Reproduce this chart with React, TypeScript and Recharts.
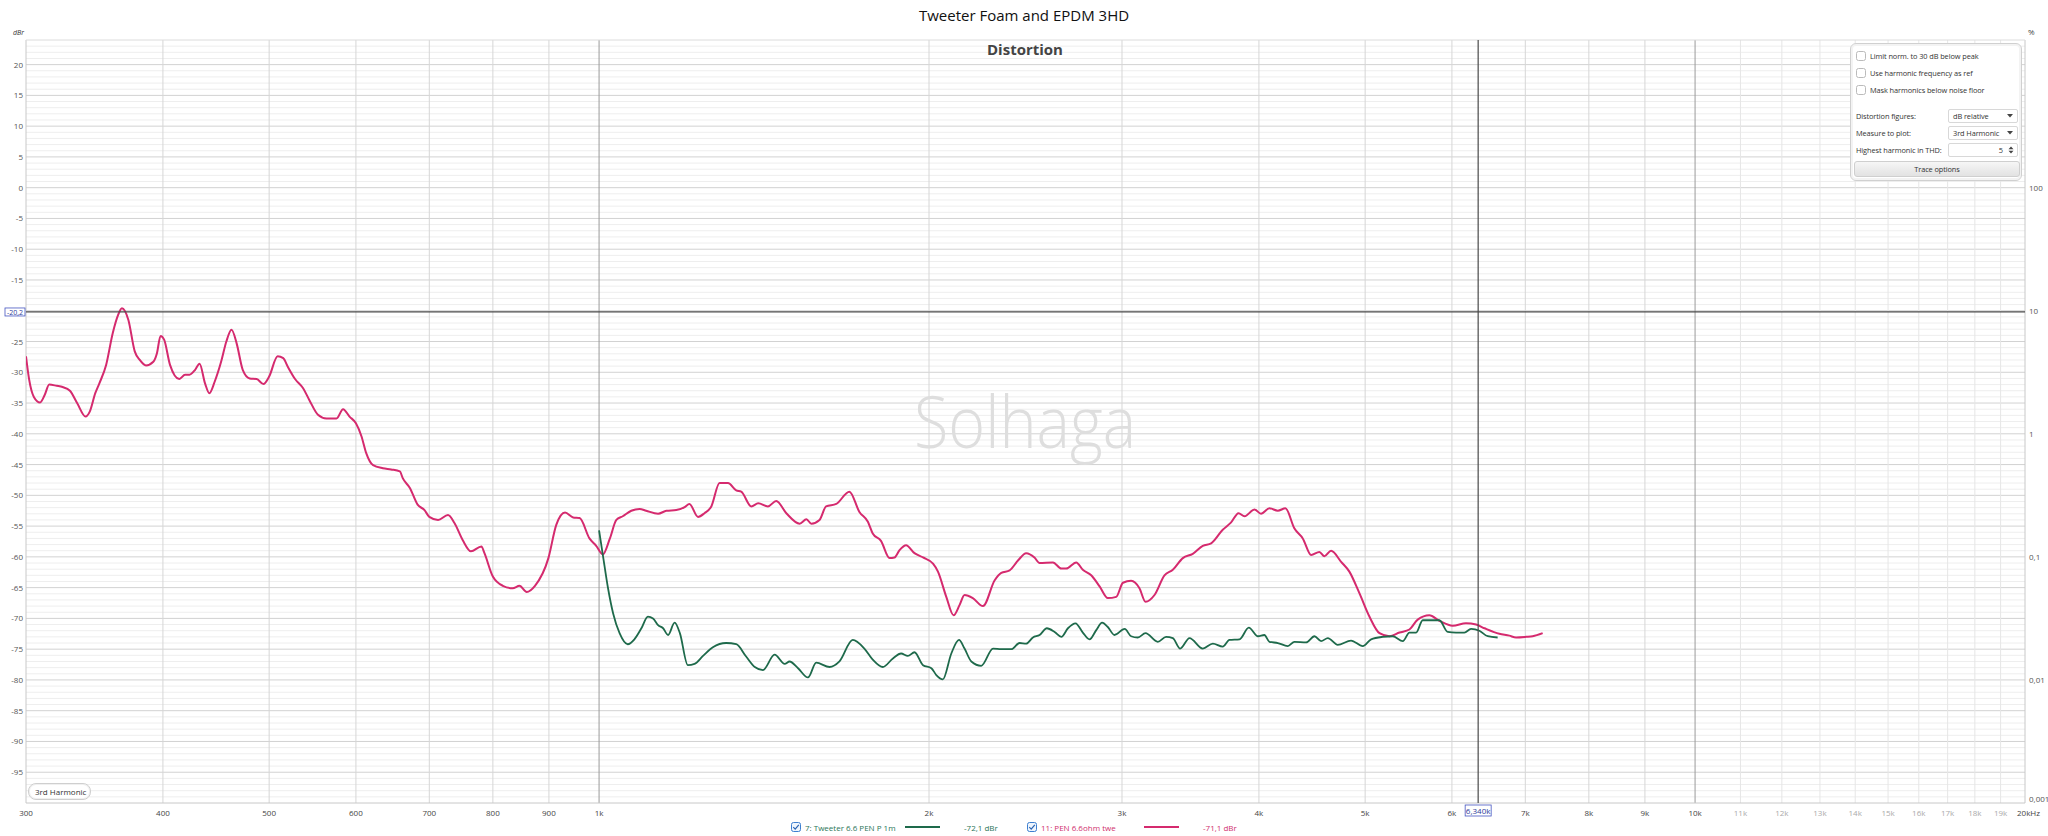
import React from "react";
import { LineChart, Line, XAxis, YAxis, ReferenceLine } from "recharts";

// PEN 6.6ohm twe (pink)
const pinkFreq = [
  300, 302, 305, 309, 312, 315, 320, 324, 329, 334, 340, 343, 347, 350, 355, 360, 364, 367, 372, 377,
  381, 386, 392, 395, 398, 401, 406, 414, 419, 423, 428, 432, 437, 441, 446, 452, 457, 462, 467, 473,
  480, 487, 494, 500, 509, 515, 520, 528, 537, 544, 554, 564, 576, 584, 592, 600, 607, 613, 622, 635,
  646, 658, 662, 672, 683, 693, 700, 713, 728, 738, 751, 764, 781, 786, 800, 817, 834, 846, 859, 874,
  899, 914, 931, 947, 960, 980, 994, 1008, 1023, 1037, 1051, 1070, 1089, 1104, 1132, 1152, 1176, 1197,
  1209, 1231, 1248, 1266, 1288, 1311, 1334, 1348, 1377, 1397, 1426, 1451, 1482, 1524, 1546, 1562, 1589,
  1611, 1646, 1692, 1728, 1759, 1777, 1808, 1841, 1860, 1880, 1906, 1940, 1975, 2017, 2038, 2074, 2106,
  2133, 2155, 2193, 2240, 2296, 2328, 2369, 2411, 2453, 2496, 2523, 2595, 2641, 2668, 2725, 2763, 2812,
  2862, 2912, 2964, 3006, 3058, 3112, 3152, 3212, 3280, 3338, 3409, 3481, 3555, 3618, 3707, 3773, 3832,
  3881, 3963, 4018, 4089, 4162, 4229, 4310, 4386, 4464, 4542, 4590, 4655, 4754, 4837, 4940, 5045, 5153,
  5262, 5374, 5487, 5584, 5722, 5844, 6010, 6180, 6312, 6425, 6629, 6769, 6865, 7015, 7110, 7260,
];
const pinkDb = [
  -27.4, -31.2, -34.0, -34.9, -33.7, -32.0, -32.2, -32.4, -33.0, -35.0, -37.2, -36.4, -33.4, -31.8, -28.8, -23.6, -20.7, -19.6, -21.5, -26.6,
  -28.0, -28.9, -28.3, -26.9, -24.1, -24.7, -28.8, -31.1, -30.4, -30.4, -29.6, -28.6, -31.8, -33.4, -31.5, -28.3, -25.0, -23.1, -25.3, -29.6,
  -31.0, -31.1, -31.9, -30.7, -27.4, -27.7, -29.1, -31.1, -32.6, -34.5, -36.9, -37.5, -37.5, -36.0, -37.2, -38.3, -40.4, -43.1, -45.1, -45.6,
  -45.8, -46.1, -47.2, -48.8, -51.5, -52.4, -53.5, -54.0, -53.2, -54.5, -57.3, -59.1, -58.3, -59.4, -63.2, -64.7, -65.1, -64.7, -65.7, -64.7,
  -60.2, -54.8, -52.8, -53.6, -53.7, -57.0, -58.2, -59.6, -57.0, -54.0, -53.4, -52.5, -52.2, -52.5, -53.0, -52.5, -52.4, -51.9,
  -51.4, -53.5, -52.9, -51.8, -48.0, -48.0, -49.2, -49.4, -51.8, -51.3, -51.8, -50.9, -52.9, -54.6, -53.9, -54.6, -54.0,
  -51.8, -51.4, -49.4, -52.7, -54.3, -56.2, -57.4, -60.2, -60.1, -58.9, -58.1, -59.4, -60.1, -61.1, -62.4, -66.5, -69.5,
  -67.8, -66.2, -66.7, -68.0, -63.8, -62.6, -62.2, -60.6, -59.4, -60.1, -61.0, -60.9, -61.9, -61.9, -60.9, -62.1, -63.0,
  -64.8, -66.7, -66.5, -64.2, -63.9, -65.1, -67.3, -66.2, -63.0, -62.1, -60.2, -59.5, -58.2, -57.8, -55.6, -54.4, -52.9,
  -53.4, -52.3, -53.0, -52.1, -52.5, -52.1, -55.4, -57.0, -59.7, -59.2, -59.9, -59.0, -60.8, -62.4, -65.9, -69.7, -72.4,
  -72.9, -72.3, -71.8, -70.2, -69.5, -70.4, -71.2, -70.8, -71.0, -71.6, -72.5, -72.8, -73.1, -73.0, -72.9, -72.4,
];

// Tweeter 6.6 PEN P 1m (green)
const greenFreq = [
  1000, 1008, 1019, 1030, 1044, 1062, 1077, 1093, 1108, 1120, 1132, 1144, 1156, 1172, 1185, 1205, 1222, 1244,
  1270, 1306, 1334, 1362, 1387, 1411, 1446, 1477, 1492, 1519, 1551, 1578, 1623, 1657, 1704, 1746, 1777, 1815,
  1854, 1886, 1913, 1940, 1975, 2010, 2031, 2059, 2096, 2130, 2155, 2186, 2232, 2288, 2328, 2378, 2419, 2453,
  2488, 2523, 2562, 2604, 2641, 2678, 2721, 2763, 2802, 2842, 2877, 2912, 2953, 3017, 3058, 3101, 3152, 3234,
  3291, 3338, 3390, 3457, 3555, 3631, 3707, 3760, 3840, 3916, 3992, 4046, 4089, 4162, 4250, 4310, 4417, 4495,
  4558, 4623, 4720, 4854, 4975, 5063, 5189, 5299, 5412, 5487, 5565, 5643, 5743, 5844, 5947, 6052, 6159, 6246,
  6356, 6469, 6605,
];
const greenDb = [
  -55.7, -59.7, -65.1, -69.2, -72.4, -74.2, -73.4, -71.6, -69.7, -70.0, -71.1, -71.6, -72.7, -70.7, -72.4, -77.6, -77.4, -76.1,
  -74.7, -74.0, -74.2, -76.2, -77.9, -78.4, -75.9, -77.4, -77.0, -78.1, -79.6, -77.2, -77.9, -77.0, -73.5, -74.9, -76.7, -77.9,
  -76.5, -75.7, -76.1, -75.5, -77.6, -78.1, -79.2, -79.9, -75.7, -73.5, -74.9, -77.0, -77.7, -74.9, -75.0, -75.0, -74.0, -74.1,
  -73.1, -72.7, -71.6, -72.2, -73.0, -71.6, -70.8, -72.3, -73.4, -71.9, -70.7, -71.4, -72.7, -71.7, -72.9, -73.1, -72.4, -73.8,
  -73.0, -73.2, -74.9, -73.2, -74.9, -74.1, -74.6, -73.5, -73.4, -71.5, -72.9, -72.7, -73.8, -74.0, -74.5, -73.8, -73.9, -72.9,
  -73.7, -73.2, -74.3, -73.6, -74.5, -73.4, -73.0, -72.9, -73.7, -72.3, -72.3, -70.3, -70.3, -70.3, -72.2, -72.3, -72.3, -71.7,
  -72.0, -72.9, -73.1,
];

const xTicks = [
  300, 400, 500, 600, 700, 800, 900, 1000, 2000, 3000, 4000, 5000, 6000, 7000, 8000, 9000, 10000,
  11000, 12000, 13000, 14000, 15000, 16000, 17000, 18000, 19000, 20000,
];
const xLabels = [
  "300", "400", "500", "600", "700", "800", "900", "1k", "2k", "3k", "4k", "5k", "6k", "7k", "8k", "9k", "10k",
  "11k", "12k", "13k", "14k", "15k", "16k", "17k", "18k", "19k", "20kHz",
];
const yTicks = [20, 15, 10, 5, 0, -5, -10, -15, -20, -25, -30, -35, -40, -45, -50, -55, -60, -65, -70, -75, -80, -85, -90, -95];
const pctTicks = [0, -20, -40, -60, -80, -100];
const pctLabels = ["100", "10", "1", "0,1", "0,01", "0,001"];

const cursorDb = -20.2;
const cursorFreq = 6340;
const legendNames = ["7: Tweeter 6.6 PEN P 1m", "11: PEN 6.6ohm twe"];
const legendValues = ["-72,1 dBr", "-71,1 dBr"];
const panelChecks = ["Limit norm. to 30 dB below peak", "Use harmonic frequency as ref", "Mask harmonics below noise floor"];
const panelFields = [
  ["Distortion figures:", "dB relative"],
  ["Measure to plot:", "3rd Harmonic"],
  ["Highest harmonic in THD:", "5"],
];

const pinkData = pinkFreq.map((f, i) => ({ f, db: pinkDb[i] }));
const greenData = greenFreq.map((f, i) => ({ f, db: greenDb[i] }));

const PINK = "#d52a6e";
const GREEN = "#1e6a4b";
const FONT = "'Open Sans', 'Noto Sans', sans-serif";

// grid positions (1 dB minor, 5 dB major)
const yMinor: number[] = [];
for (let v = -99; v <= 23; v++) if (v % 5 !== 0) yMinor.push(v);
const xGrid = xTicks.filter((v) => v !== 300 && v !== 20000);

const XTick = (props: any) => {
  const { x, y, payload } = props;
  const i = xTicks.indexOf(payload.value);
  const v = payload.value;
  const faint = v > 10000 && v < 20000;
  const last = v === 20000;
  return (
    <text x={last ? x - 8 : x} y={y + 11} textAnchor={last ? "start" : "middle"} fontSize={8} fontFamily={FONT} fill={faint ? "#aaa" : "#444"}>
      {xLabels[i]}
    </text>
  );
};

const LTick = (props: any) => {
  const { x, y, payload } = props;
  // the cursor readout box sits over this tick
  if (Math.abs(payload.value - cursorDb) < 1) return <g />;
  return (
    <text x={x - 1} y={y + 3} textAnchor="end" fontSize={8} fontFamily={FONT} fill="#555">
      {payload.value}
    </text>
  );
};

const RTick = (props: any) => {
  const { x, y, payload } = props;
  const i = pctTicks.indexOf(payload.value);
  return (
    <text x={x + 2} y={payload.value === -100 ? y - 1 : y + 3} textAnchor="start" fontSize={8} fontFamily={FONT} fill="#555">
      {pctLabels[i]}
    </text>
  );
};

const CheckIcon = ({ checked }: { checked: boolean }) => (
  <svg width={10} height={10} style={{ display: "block", flexShrink: 0 }}>
    <rect x={0.5} y={0.5} width={9} height={9} rx={2} fill={checked ? "#eef5fd" : "#fff"} stroke={checked ? "#3d7fd0" : "#bbb"} />
    {checked && <path d="M2.3 5.2 L4.2 7.1 L7.8 2.8" fill="none" stroke="#2a64b3" strokeWidth={1.2} />}
  </svg>
);

export default function App() {
  return (
    <div style={{ position: "absolute", left: 0, top: 0, width: 2048, height: 836, background: "#fff", overflow: "hidden", fontFamily: FONT }}>
      <LineChart width={2048} height={836} margin={{ top: 40, right: 3, bottom: 13, left: 6 }}>
        <XAxis
          dataKey="f"
          type="number"
          scale="log"
          domain={[300, 20000]}
          allowDataOverflow
          ticks={xTicks}
          interval={0}
          height={20}
          tickSize={0}
          tickLine={false}
          axisLine={false}
          tick={(p: any) => <XTick {...p} />}
        />
        <YAxis
          yAxisId="l"
          type="number"
          domain={[-100, 24]}
          allowDataOverflow
          ticks={yTicks}
          interval={0}
          width={20}
          tickSize={0}
          tickLine={false}
          axisLine={false}
          tick={(p: any) => <LTick {...p} />}
        />
        <YAxis
          yAxisId="r"
          orientation="right"
          type="number"
          domain={[-100, 24]}
          allowDataOverflow
          ticks={pctTicks}
          interval={0}
          width={20}
          tickSize={0}
          tickLine={false}
          axisLine={false}
          tick={(p: any) => <RTick {...p} />}
        />

        {yMinor.map((v) => (
          <ReferenceLine key={"ym" + v} yAxisId="l" y={v} stroke="#eeeeee" strokeWidth={1} />
        ))}
        {yTicks.map((v) => (
          <ReferenceLine key={"yM" + v} yAxisId="l" y={v} stroke="#d2d2d2" strokeWidth={1} />
        ))}
        {xGrid.map((v) => (
          <ReferenceLine
            key={"x" + v}
            yAxisId="l"
            x={v}
            stroke={v === 1000 || v === 10000 ? "#9a9a9a" : v > 10000 ? "#e6e6e6" : "#d6d6d6"}
            strokeWidth={1}
          />
        ))}
        <ReferenceLine yAxisId="l" x={300} stroke="#c8c8c8" />
        <ReferenceLine yAxisId="l" x={20000} stroke="#c8c8c8" />
        <ReferenceLine yAxisId="l" y={24} stroke="#dcdcdc" />
        <ReferenceLine yAxisId="l" y={-100} stroke="#c8c8c8" />

        <Line
          yAxisId="l"
          data={pinkData}
          dataKey="db"
          type="monotone"
          stroke={PINK}
          strokeWidth={2}
          dot={false}
          activeDot={false}
          isAnimationActive={false}
        />
        <Line
          yAxisId="l"
          data={greenData}
          dataKey="db"
          type="monotone"
          stroke={GREEN}
          strokeWidth={1.8}
          dot={false}
          activeDot={false}
          isAnimationActive={false}
        />

        <ReferenceLine
          yAxisId="l"
          y={cursorDb}
          stroke="#4a4a4a"
          strokeWidth={1.2}
          label={(p: any) => {
            const vb = p.viewBox || {};
            return (
              <g>
                <rect x={vb.x - 21} y={vb.y - 4} width={20} height={8} fill="#fff" stroke="#4656c0" strokeWidth={0.8} />
                <text x={vb.x - 11} y={vb.y + 2.6} textAnchor="middle" fontSize={7} fontFamily={FONT} fill="#2a3a9a">
                  -20,2
                </text>
              </g>
            );
          }}
        />
        <ReferenceLine
          yAxisId="l"
          x={cursorFreq}
          stroke="#4a4a4a"
          strokeWidth={1.2}
          label={(p: any) => {
            const vb = p.viewBox || {};
            const bottom = vb.y + vb.height;
            return (
              <g>
                <rect x={vb.x - 13} y={bottom + 2} width={26} height={11} fill="#fff" stroke="#4656c0" strokeWidth={0.8} />
                <text x={vb.x} y={bottom + 10.5} textAnchor="middle" fontSize={8} fontFamily={FONT} fill="#2a3a9a">
                  6,340k
                </text>
              </g>
            );
          }}
        />
      </LineChart>

      <svg width={2048} height={836} style={{ position: "absolute", left: 0, top: 0, pointerEvents: "none" }}>
        <text x={1024} y={21} textAnchor="middle" fontSize={15} fontFamily={FONT} fill="#111">
          Tweeter Foam and EPDM 3HD
        </text>
        <text x={1025} y={55} textAnchor="middle" fontSize={15} fontWeight="bold" fontFamily={FONT} fill="#444">
          Distortion
        </text>
        <text x={1025} y={448} textAnchor="middle" fontSize={72} fontWeight={300} fontFamily={FONT} fill="#dedede" textLength={222} lengthAdjust="spacingAndGlyphs">
          Solhaga
        </text>
        <text x={13} y={35} fontSize={7} fontStyle="italic" fontFamily={FONT} fill="#333">
          dBr
        </text>
        <text x={2028} y={35} fontSize={8} fontFamily={FONT} fill="#444">
          %
        </text>
      </svg>

      {/* 3rd Harmonic tag */}
      <div
        style={{
          position: "absolute",
          left: 28,
          top: 783,
          width: 55,
          height: 15,
          border: "1px solid #cfcfcf",
          borderRadius: 8,
          background: "#fff",
          boxShadow: "inset 0 0 0 1px #f0f0f0",
          fontSize: 8,
          lineHeight: "15px",
          color: "#333",
          paddingLeft: 6,
          boxSizing: "content-box",
          whiteSpace: "nowrap",
        }}
      >
        3rd Harmonic
      </div>

      {/* options panel */}
      <div
        style={{
          position: "absolute",
          left: 1850,
          top: 43,
          width: 170,
          height: 136,
          border: "1px solid #d0d0d0",
          borderRadius: 6,
          background: "#fff",
          boxShadow: "inset 0 0 0 2px #f3f3f3",
          fontSize: 7.4,
          letterSpacing: -0.1,
          color: "#333",
        }}
      >
        {panelChecks.map((t, i) => (
          <div key={t} style={{ position: "absolute", left: 5, top: 7 + i * 17, display: "flex", alignItems: "center", height: 10 }}>
            <CheckIcon checked={false} />
            <span style={{ marginLeft: 4, whiteSpace: "nowrap" }}>{t}</span>
          </div>
        ))}
        {panelFields.map(([label, value], i) => (
          <div key={label}>
            <div style={{ position: "absolute", left: 5, top: 66 + i * 17, height: 12, lineHeight: "12px", whiteSpace: "nowrap" }}>{label}</div>
            <div
              style={{
                position: "absolute",
                left: 97,
                top: 65 + i * 17,
                width: 68,
                height: 12,
                border: "1px solid #d8d8d8",
                borderRadius: 2,
                background: "#fff",
                lineHeight: "12px",
              }}
            >
              <span style={{ position: "absolute", left: i === 2 ? undefined : 4, right: i === 2 ? 14 : undefined, whiteSpace: "nowrap" }}>{value}</span>
              {i === 2 ? (
                <svg width={6} height={8} style={{ position: "absolute", right: 3, top: 2 }}>
                  <path d="M0.5 3.2 L3 0.5 L5.5 3.2 Z M0.5 4.8 L3 7.5 L5.5 4.8 Z" fill="#444" />
                </svg>
              ) : (
                <svg width={6} height={4} style={{ position: "absolute", right: 4, top: 4 }}>
                  <path d="M0 0 L6 0 L3 3.5 Z" fill="#444" />
                </svg>
              )}
            </div>
          </div>
        ))}
        <div
          style={{
            position: "absolute",
            left: 3,
            top: 117,
            width: 164,
            height: 14,
            border: "1px solid #cfcfcf",
            borderRadius: 3,
            background: "linear-gradient(#f6f6f6, #e2e2e2)",
            textAlign: "center",
            lineHeight: "14px",
          }}
        >
          Trace options
        </div>
      </div>

      {/* legend */}
      {legendNames.map((name, i) => {
        const color = i === 0 ? GREEN : PINK;
        const left = i === 0 ? 791 : 1027;
        return (
          <div key={name} style={{ position: "absolute", left, top: 822, height: 10, display: "flex", alignItems: "center", fontSize: 8, color: i === 0 ? "#2b7658" : "#d0306e", whiteSpace: "nowrap" }}>
            <CheckIcon checked />
            <span style={{ marginLeft: 4, width: i === 0 ? 100 : 103 }}>{name}</span>
            <span style={{ display: "inline-block", width: 35, height: 2, background: color }} />
            <span style={{ marginLeft: 24 }}>{legendValues[i]}</span>
          </div>
        );
      })}
    </div>
  );
}
